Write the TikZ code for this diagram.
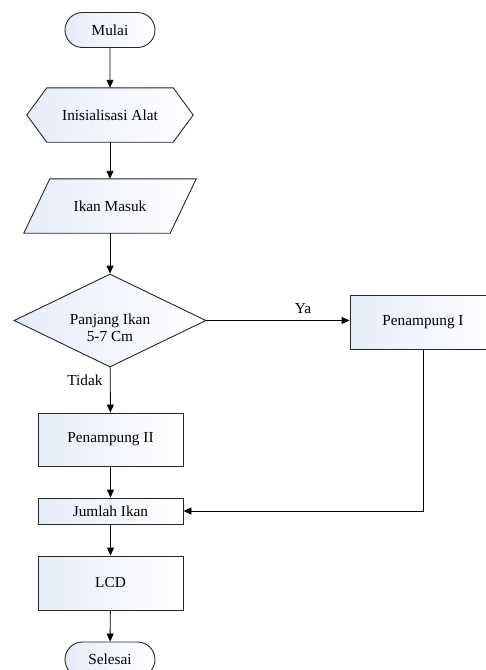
\documentclass[tikz,border=0pt]{standalone}
\usepackage{fontspec}
\setmainfont{Liberation Serif}
\usetikzlibrary{shapes.geometric,shapes.misc,arrows.meta,backgrounds}
\definecolor{gfill}{RGB}{230,236,248}
\tikzset{
  shapefill/.style={draw=black!85,line width=0.9pt,left color=gfill,right color=white},
  boxnode/.style={rectangle,shapefill,minimum width=145pt,inner sep=0pt},
  termnode/.style={rounded rectangle,shapefill,minimum width=90pt,minimum height=35pt,inner sep=0pt},
  plain/.style={draw=none,inner sep=0pt},
  arr/.style={draw=black,line width=0.9pt,-{Triangle[length=8pt,width=7pt]}},
  lbl/.style={inner sep=0pt},
}
\begin{document}
\begin{tikzpicture}[x=1pt,y=-1pt,font=\fontsize{15.3}{18}\selectfont]
\useasboundingbox (0,0) rectangle (486,670);
\clip (0,0) rectangle (486,670);
\node[termnode] (mulai) at (110,30) {Mulai};
\node[plain,minimum width=126pt,minimum height=54pt] (init) at (110,115) {Inisialisasi Alat};
\node[plain,minimum width=146pt,minimum height=54pt] (ikan) at (110,206) {Ikan Masuk};
\node[diamond,shapefill,inner sep=0pt,aspect=2.06,minimum width=192pt,minimum height=93pt] (dec) at (110,320.5) {};
\node[lbl,align=center] (dectext) at (110,328) {Panjang Ikan\\[-1pt]5-7 Cm};
\node[boxnode,minimum width=146pt,minimum height=54pt] (p1) at (423,322) {Penampung I};
\node[boxnode,minimum height=53pt] (p2) at (110.5,439.5) {Penampung II};
\node[boxnode,minimum height=26pt] (jml) at (110.5,511) {Jumlah Ikan};
\node[boxnode,minimum height=54pt] (lcd) at (110.5,583) {LCD};
\node[termnode] (sel) at (110,659.5) {Selesai};
\node[lbl] (ya) at (303,309) {Ya};
\node[lbl] (tidak) at (85,380) {Tidak};
\begin{pgfonlayer}{background}
\path[shapefill] (init.north west) -- (init.north east) -- ([xshift=20pt]init.east) -- (init.south east) -- (init.south west) -- ([xshift=-20pt]init.west) -- cycle;
\path[shapefill] ([xshift=13pt]ikan.north west) -- ([xshift=13pt]ikan.north east) -- ([xshift=-13pt]ikan.south east) -- ([xshift=-13pt]ikan.south west) -- cycle;
\end{pgfonlayer}
\draw[arr] (mulai) -- (init);
\draw[arr] (init) -- (ikan);
\draw[arr] (ikan) -- (dec);
\draw[arr] (dec.east) -- (dec.east -| p1.west);
\draw[arr] (dec) -- (p2);
\draw[arr] (p2) -- (jml);
\draw[arr] (p1.south) |- (jml.east);
\draw[arr] (jml) -- (lcd);
\draw[arr] (lcd) -- (sel);
\end{tikzpicture}
\end{document}
